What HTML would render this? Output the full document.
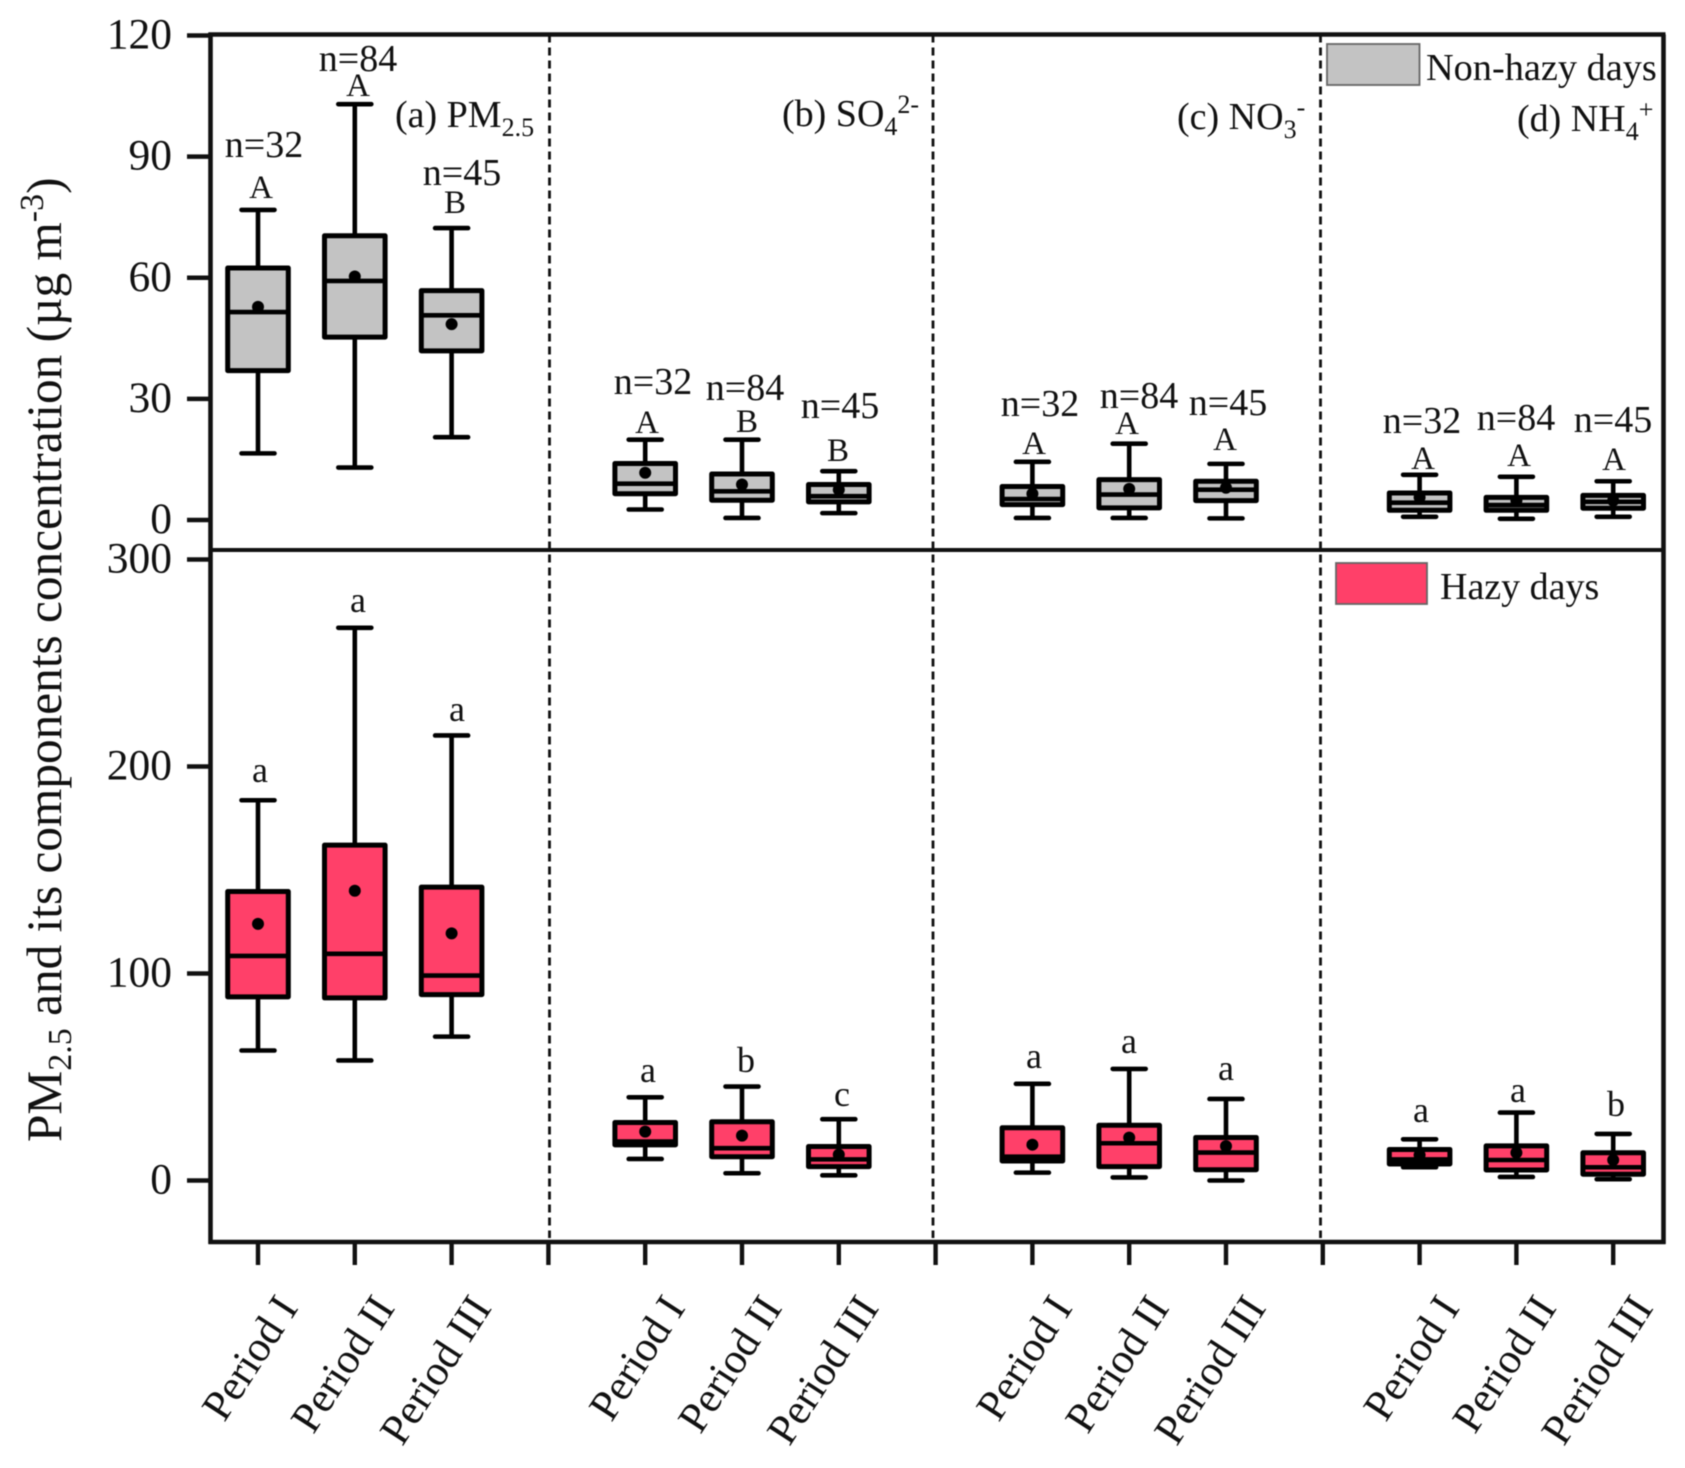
<!DOCTYPE html>
<html lang="en">
<head>
<meta charset="utf-8">
<title>PM2.5 and components concentration</title>
<style>
html,body{margin:0;padding:0;background:#fff;width:1685px;height:1468px;overflow:hidden}
svg{display:block;filter:blur(.6px)}
text{font-family:"Liberation Serif",serif;fill:#111}
.n{font-size:38px;text-anchor:middle}
.l{font-size:33px;text-anchor:middle}
.lc{font-size:36px;text-anchor:middle}
.p{font-size:38px}
.s{font-size:26px}
</style>
</head>
<body>
<svg id="chart" width="1685" height="1468" viewBox="0 0 1685 1468" xmlns="http://www.w3.org/2000/svg">
  <rect x="0" y="0" width="1685" height="1468" fill="#fff"/>
  <g id="marks"></g>
  <g id="frame"></g>

  <text transform="translate(61,1142) rotate(-90)" font-size="49.3">PM<tspan font-size="34" dy="10">2.5</tspan><tspan dy="-10"> and its components concentration (µg m</tspan><tspan font-size="34" dy="-18">-3</tspan><tspan dy="18">)</tspan></text>

  <text class="p" x="395" y="127">(a) PM<tspan class="s" dy="9">2.5</tspan></text>
  <text class="p" x="782" y="126">(b) SO<tspan class="s" dy="9">4</tspan><tspan class="s" dy="-22">2-</tspan></text>
  <text class="p" x="1177" y="129">(c) NO<tspan class="s" dy="9">3</tspan><tspan class="s" dy="-22">-</tspan></text>
  <text class="p" x="1517" y="131">(d) NH<tspan class="s" dy="9">4</tspan><tspan class="s" dy="-22">+</tspan></text>

  <rect x="1327" y="44" width="92.5" height="41" fill="#c3c3c3" stroke="#666" stroke-width="1.8"/>
  <text font-size="38.3" x="1426" y="80">Non-hazy days</text>
  <rect x="1336" y="563" width="91" height="41" fill="#ff4069" stroke="#666" stroke-width="1.8"/>
  <text class="p" x="1440" y="599">Hazy days</text>

  <g>
    <text class="n" x="264" y="157">n=32</text>
    <text class="n" x="358" y="71">n=84</text>
    <text class="n" x="462" y="185">n=45</text>
    <text class="n" x="653" y="394">n=32</text>
    <text class="n" x="745" y="400">n=84</text>
    <text class="n" x="840" y="418">n=45</text>
    <text class="n" x="1040" y="416">n=32</text>
    <text class="n" x="1139" y="408">n=84</text>
    <text class="n" x="1228" y="415">n=45</text>
    <text class="n" x="1422" y="433">n=32</text>
    <text class="n" x="1516" y="430">n=84</text>
    <text class="n" x="1613" y="432">n=45</text>
  </g>

  <g>
    <text class="l" x="261" y="198">A</text>
    <text class="l" x="358" y="96">A</text>
    <text class="l" x="455" y="213">B</text>
    <text class="l" x="647" y="433">A</text>
    <text class="l" x="747" y="432">B</text>
    <text class="l" x="838" y="461">B</text>
    <text class="l" x="1034" y="454">A</text>
    <text class="l" x="1127" y="434">A</text>
    <text class="l" x="1225" y="450">A</text>
    <text class="l" x="1423" y="469">A</text>
    <text class="l" x="1519" y="466">A</text>
    <text class="l" x="1614" y="470">A</text>
  </g>
  <g>
    <text class="lc" x="260" y="782">a</text>
    <text class="lc" x="358" y="612">a</text>
    <text class="lc" x="457" y="721">a</text>
    <text class="lc" x="648" y="1082">a</text>
    <text class="lc" x="746" y="1072">b</text>
    <text class="lc" x="842" y="1106">c</text>
    <text class="lc" x="1034" y="1068">a</text>
    <text class="lc" x="1129" y="1053">a</text>
    <text class="lc" x="1226" y="1080">a</text>
    <text class="lc" x="1421" y="1122">a</text>
    <text class="lc" x="1518" y="1102">a</text>
    <text class="lc" x="1616" y="1116">b</text>
  </g>
</svg>
<script>
// Category axis: slots run left to right; a blank label marks a panel separator tick.
const periodLabels = ["Period I","Period II","Period III","","Period I","Period II","Period III","","Period I","Period II","Period III","","Period I","Period II","Period III"];

// Tick labels
const upperTicks = [0,30,60,90,120];
const lowerTicks = [0,100,200,300];

// Non-hazy days (upper panel), order: PM2.5, SO4, NO3, NH4 × Period I, II, III
const upperHigh   = [76.8,103,72.3, 19.9,19.9,12.1, 14.4,18.9,13.9, 11.2,10.7,9.6];
const upperQ3     = [62.4,70.4,56.8, 14,11.4,8.8, 8.3,10,9.6, 6.7,5.6,6.1];
const upperMedian = [51.5,59.2,50.7, 9,7.1,5.9, 5.2,6.3,7.5, 4.3,3.7,4.5];
const upperQ1     = [37,45.3,41.9, 6.5,4.9,4.5, 3.8,3,4.8, 2.4,2.4,2.9];
const upperLow    = [16.5,13,20.5, 2.6,0.5,1.7, 0.5,0.5,0.4, 0.8,0.3,0.8];
const upperMean   = [52.8,60.3,48.5, 11.7,8.8,7.5, 6.5,7.7,8, 5.6,4.8,4.8];

// Hazy days (lower panel)
const lowerHigh   = [183.7,267,215, 40.2,45.4,29.6, 46.7,53.9,39.4, 19.9,32.8,22.5];
const lowerQ3     = [139.6,162,141.7, 28,28.4,16.4, 25.5,26.7,20.8, 15,16.7,13.4];
const lowerMedian = [108.5,109.5,99, 18.8,15.6,10.2, 11.5,18,13.5, 10.2,9.9,6.4];
const lowerQ1     = [88.7,88.2,89.8, 17.2,11.5,6.7, 9.4,6.7,5.2, 8,5.1,3];
const lowerLow    = [62.8,58,69.5, 10.4,3.5,2.5, 3.8,1.5,0, 6.4,1.7,0.6];
const lowerMean   = [124,140,119.4, 23.6,21.7,12.5, 17.3,20.7,16.6, 12.3,13.4,9.9];

const svgNS = "http://www.w3.org/2000/svg";
const marks = document.getElementById("marks");
const frame = document.getElementById("frame");

function slotX(i){ return 258 + 96.8 * i; }
function boxSlot(i){ return i + Math.floor(i / 3); }
function yUpper(v){ return 520 - v * (520 - 35.5) / 120; }
function yLower(v){ return 1180.5 - v * (1180.5 - 559.5) / 300; }

function make(parent, tag, attrs){
  const el = document.createElementNS(svgNS, tag);
  for (const k in attrs) el.setAttribute(k, attrs[k]);
  parent.appendChild(el);
  return el;
}

function drawBoxes(prefix, fill, y, high, q3, med, q1, low, mean){
  for (let i = 0; i < high.length; i++){
    const cx = slotX(boxSlot(i));
    const g = make(marks, "g", {});
    
    
    const ln = {stroke:"#000","stroke-width":4.6};
    make(g,"line",Object.assign({x1:cx,x2:cx,y1:y(high[i]),y2:y(low[i])},ln));
    make(g,"line",Object.assign({x1:cx-16.5,x2:cx+16.5,y1:y(high[i]),y2:y(high[i]),"stroke-linecap":"round"},ln));
    make(g,"line",Object.assign({x1:cx-16.5,x2:cx+16.5,y1:y(low[i]),y2:y(low[i]),"stroke-linecap":"round"},ln));
    make(g,"rect",{x:cx-30.3,y:y(q3[i]),width:60.6,height:y(q1[i])-y(q3[i]),fill:fill,stroke:"#000","stroke-width":5,"stroke-linejoin":"round"});
    make(g,"line",Object.assign({x1:cx-30,x2:cx+30,y1:y(med[i]),y2:y(med[i])},ln));
    make(g,"circle",{cx:cx,cy:y(mean[i]),r:6,fill:"#000"});
  }
}

drawBoxes("non-hazy","#c3c3c3",yUpper,upperHigh,upperQ3,upperMedian,upperQ1,upperLow,upperMean);
drawBoxes("hazy","#ff4069",yLower,lowerHigh,lowerQ3,lowerMedian,lowerQ1,lowerLow,lowerMean);

// Frame
const L = 210.5, R = 1663.5, T = 34.5, M = 550, B = 1242;
const frameLines = [
  make(frame,"line",{x1:L,x2:L,y1:T-2,y2:B+2,stroke:"#111","stroke-width":4.6}),
  make(frame,"line",{x1:R,x2:R,y1:T,y2:B+2,stroke:"#111","stroke-width":4.6}),
  make(frame,"line",{x1:L-2,x2:R+2,y1:T,y2:T,stroke:"#111","stroke-width":4.6}),
  make(frame,"line",{x1:L,x2:R,y1:M,y2:M,stroke:"#111","stroke-width":4}),
  make(frame,"line",{x1:L-2,x2:R+2,y1:B,y2:B,stroke:"#111","stroke-width":4.6})
];
const frameNames = ["left-axis","right-border","top-border","panel-divider","x-axis"];
frameLines.forEach(function(el, i){
  
  
});

// Dashed panel separators
[549.5, 933, 1320.5].forEach(function(x, i){
  const d = make(frame,"line",{x1:x,x2:x,y1:T,y2:B-4,stroke:"#111","stroke-width":2.8,"stroke-dasharray":"8 5"});
  
  
});

// Y ticks
function drawYTicks(ticks, y, prefix){
  ticks.forEach(function(v){
    const t = make(frame,"line",{x1:187,x2:L,y1:y(v),y2:y(v),stroke:"#111","stroke-width":4.4});
    
    
    const lab = make(frame,"text",{x:172,y:y(v)+13,"text-anchor":"end","font-size":43.5});
    
    
    lab.textContent = v;
  });
}
drawYTicks(upperTicks, yUpper, "upper-y");
drawYTicks(lowerTicks, yLower, "lower-y");

// X ticks and labels
periodLabels.forEach(function(label, i){
  const x = slotX(i);
  const t = make(frame,"line",{x1:x,x2:x,y1:B,y2:B+23,stroke:"#111","stroke-width":4.4});
  
  
  if (label){
    const lab = make(frame,"text",{"text-anchor":"end","font-size":43,transform:"translate(" + (x + 41) + ",1308) rotate(-57)"});
    
    
    lab.textContent = label;
  }
});
</script>
</body>
</html>
